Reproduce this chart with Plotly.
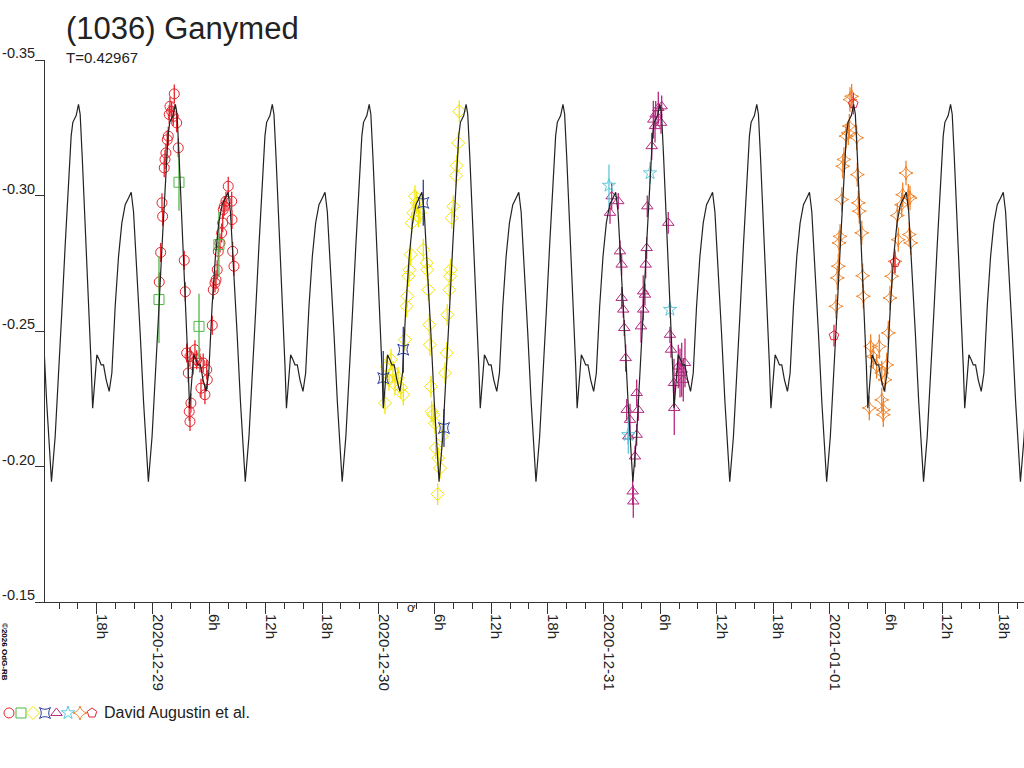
import numpy as np
import pandas as pd
import plotly.graph_objects as go

# ---- lightcurve of (1036) Ganymed, times in hours after 2020-12-29 00:00 UT ----
BASE = pd.Timestamp("2020-12-29 00:00")
PERIOD_D = 0.42967
EPOCH_MIN_H = -10.80          # a light minimum of the model curve

# model curve, one rotation (phase, relative mag)
MODEL_PHASE = [0.0000, 0.0379, 0.0723, 0.1067, 0.1411, 0.1756, 0.2031, 0.2203, 0.2547,
               0.2788, 0.2960, 0.3170, 0.3515, 0.3860, 0.4100, 0.4250, 0.4475, 0.4682,
               0.4923, 0.5129, 0.5370, 0.5645, 0.5955, 0.6231, 0.6575, 0.6919, 0.7263,
               0.7608, 0.7952, 0.8227, 0.8468, 0.8812, 0.9157, 0.9501, 0.9845]
MODEL_MAG = [-0.1944, -0.2110, -0.2320, -0.2570, -0.2815, -0.3050, -0.3220, -0.3270, -0.3295,
             -0.3336, -0.3300, -0.3145, -0.2870, -0.2560, -0.2370, -0.2215, -0.2308, -0.2412,
             -0.2394, -0.2375, -0.2375, -0.2320, -0.2277, -0.2345, -0.2591, -0.2775, -0.2899,
             -0.2966, -0.2991, -0.3012, -0.2940, -0.2730, -0.2490, -0.2240, -0.2050]

# session 1 (red circles)
RED_H = [2.27, 1.81, 1.99, 1.73, 2.16, 2.52, 1.63, 1.52, 1.38, 1.28, 1.20, 0.96, 1.03, 0.82,
         0.67, 2.69, 3.33, 3.44, 3.59, 3.94, 4.47, 4.65, 3.76, 4.29, 5.00, 5.35, 5.72, 5.78,
         5.11, 5.53, 4.04, 3.86, 3.94, 6.31, 6.42, 6.60, 6.71, 6.84, 6.95, 7.13, 7.31, 7.42,
         7.48, 7.59, 7.77, 8.01, 8.38, 8.41, 8.48, 8.62]
RED_M = [-0.3375, -0.3329, -0.3311, -0.3299, -0.3292, -0.3268, -0.3219, -0.3206, -0.3157,
         -0.3133, -0.3102, -0.2973, -0.2923, -0.2790, -0.2681, -0.3176, -0.2761, -0.2645,
         -0.2419, -0.2406, -0.2431, -0.2394, -0.2345, -0.2382, -0.2382, -0.2382, -0.2357,
         -0.2320, -0.2289, -0.2265, -0.2234, -0.2203, -0.2166, -0.2521, -0.2652, -0.2677,
         -0.2689, -0.2726, -0.2794, -0.2825, -0.2862, -0.2899, -0.2948, -0.2960, -0.2979,
         -0.3034, -0.2979, -0.2911, -0.2794, -0.2739]
RED_E = 0.0035

# session 2 (green squares)
GRN_H = [2.77, 0.64, 4.90, 7.02]
GRN_M = [-0.3049, -0.2616, -0.2517, -0.2819]
GRN_E = [0.0105, 0.016, 0.012, 0.012]

# session 3 (yellow diamonds)
YEL_H = [24.69, 24.90, 25.12, 25.33, 25.54, 25.76, 26.08, 26.39, 26.64, 26.82, 27.00, 27.07,
         27.17, 27.28, 27.43, 27.53, 27.70, 27.88, 28.07, 28.24, 28.42, 28.77, 29.13, 29.19,
         29.30, 29.41, 29.48, 29.59, 29.66, 29.83, 30.01, 30.09, 30.30, 30.36, 30.55, 30.73,
         31.08, 31.26, 31.32, 31.54, 31.61, 31.68, 31.79, 31.96, 32.25, 32.32, 32.49, 32.60]
YEL_M = [-0.2234, -0.2368, -0.2320, -0.2394, -0.2350, -0.2302, -0.2327, -0.2291, -0.2265,
         -0.2468, -0.2591, -0.2628, -0.2702, -0.2726, -0.2782, -0.2899, -0.2936, -0.2997,
         -0.2973, -0.2923, -0.2936, -0.2800, -0.2751, -0.2726, -0.2652, -0.2523, -0.2449,
         -0.2295, -0.2203, -0.2191, -0.2160, -0.2068, -0.1898, -0.2031, -0.1994, -0.2111,
         -0.2345, -0.2419, -0.2560, -0.2652, -0.2702, -0.2726, -0.2917, -0.2960, -0.3073,
         -0.3110, -0.3194, -0.3311]
YEL_E = 0.004

# session 4 (blue)
BLU_H = [24.51, 26.64, 28.77, 30.97]
BLU_M = [-0.2326, -0.2431, -0.2973, -0.2142]
BLU_E = [0.010, 0.0085, 0.0085, 0.007]

# session 5 (purple triangles)
PUR_H = [48.64, 48.82, 49.52, 49.70, 49.88, 49.88, 50.05, 50.16, 50.31, 50.42, 50.59, 50.77,
         51.05, 51.12, 51.30, 51.48, 51.65, 51.48, 51.94, 52.18, 52.18, 52.36, 52.44, 52.54,
         52.61, 53.08, 53.25, 53.43, 53.50, 53.78, 54.07, 54.14, 54.84, 55.02, 55.13, 55.45,
         55.48, 55.91, 56.09, 56.27, 56.44, 56.62]
PUR_M = [-0.2936, -0.2997, -0.2979, -0.2794, -0.2745, -0.2622, -0.2579, -0.2511, -0.2400,
         -0.2209, -0.2111, -0.2172, -0.1908, -0.1871, -0.2037, -0.2271, -0.2209, -0.2117,
         -0.2517, -0.2579, -0.2646, -0.2634, -0.2745, -0.2806, -0.2960, -0.3182, -0.3280,
         -0.3256, -0.3299, -0.3323, -0.3268, -0.3329, -0.2899, -0.2486, -0.2431, -0.2308,
         -0.2216, -0.2369, -0.2345, -0.2357, -0.2320, -0.2382]
PUR_E = [0.004, 0.005, 0.003, 0.004, 0.004, 0.004, 0.003, 0.003, 0.005, 0.004, 0.003, 0.006,
         0.005, 0.006, 0.004, 0.005, 0.004, 0.004, 0.006, 0.004, 0.006, 0.004, 0.005, 0.004,
         0.004, 0.005, 0.007, 0.006, 0.005, 0.006, 0.004, 0.004, 0.004, 0.003, 0.003, 0.009,
         0.010, 0.008, 0.009, 0.010, 0.008, 0.009]

# session 6 (cyan stars)
CYA_H = [48.53, 52.90, 55.02, 50.59]
CYA_M = [-0.3037, -0.3083, -0.2579, -0.2117]
CYA_E = [0.0077, 0.004, 0.003, 0.007]

# session 7 (orange 4-point stars)
ORA_H = [72.69, 72.83, 72.94, 73.01, 73.12, 73.30, 73.41, 73.54, 73.76, 74.00, 74.11, 74.18,
         74.36, 74.89, 74.96, 75.07, 75.17, 75.43, 75.53, 75.60, 76.24, 76.38, 76.66, 77.02,
         77.30, 77.56, 77.56, 77.73, 77.73, 77.91, 78.09, 78.26, 78.44, 78.62, 78.97, 79.22,
         79.32, 79.68, 79.79, 80.14, 80.39, 80.49, 80.57, 80.64]
ORA_M = [-0.2591, -0.2696, -0.2739, -0.2825, -0.2849, -0.2985, -0.3108, -0.3133, -0.3219,
         -0.3231, -0.3256, -0.3354, -0.3366, -0.3213, -0.3077, -0.2973, -0.2942, -0.2862,
         -0.2704, -0.2628, -0.2216, -0.2443, -0.2406, -0.2369, -0.2443, -0.2345, -0.2246,
         -0.2209, -0.2191, -0.2320, -0.2375, -0.2493, -0.2622, -0.2702, -0.2757, -0.2926,
         -0.2837, -0.2966, -0.3003, -0.3083, -0.2997, -0.2856, -0.2991, -0.2825]
ORA_E = 0.0045

# session 8 (red pentagons)
PEN_H = [72.48, 74.53, 78.97]
PEN_M = [-0.2483, -0.3339, -0.2753]
PEN_E = 0.004

Y_TICKS = [-0.35, -0.30, -0.25, -0.20, -0.15]
Y_TICK_TEXT = ["-0.35", "-0.30", "-0.25", "-0.20", "-0.15"]
X_TICK_H = [-6, 0, 6, 12, 18, 24, 30, 36, 42, 48, 54, 60, 66, 72, 78, 84, 90]
X_TICK_TEXT = ["18h", "2020-12-29", "6h", "12h", "18h", "2020-12-30", "6h", "12h", "18h",
               "2020-12-31", "6h", "12h", "18h", "2021-01-01", "6h", "12h", "18h"]
X_RANGE_H = [-11.49, 92.70]
OBSERVER = "David Augustin et al."


def to_time(hours):
    return BASE + pd.to_timedelta(np.asarray(hours, dtype=float), unit="h")


series = [
    (RED_H, RED_M, RED_E, "circle-open", "#e8232b"),
    (GRN_H, GRN_M, GRN_E, "square-open", "#4fb848"),
    (YEL_H, YEL_M, YEL_E, "diamond-open", "#f2e600"),
    (BLU_H, BLU_M, BLU_E, "star-square-open", "#2b3f9e"),
    (PUR_H, PUR_M, PUR_E, "triangle-up-open", "#b5287f"),
    (CYA_H, CYA_M, CYA_E, "star-open", "#5fc8dc"),
    (ORA_H, ORA_M, ORA_E, "star-diamond-open", "#f08228"),
    (PEN_H, PEN_M, PEN_E, "pentagon-open", "#e8233c"),
]

fig = go.Figure()

for h, m, e, sym, col in series:
    err = e if isinstance(e, list) else [e] * len(h)
    fig.add_trace(go.Scatter(
        x=to_time(h), y=m, mode="markers",
        marker=dict(symbol=sym, size=10, color=col, line=dict(width=1, color=col)),
        error_y=dict(type="data", array=err, width=0, thickness=1.3, color=col),
        hoverinfo="skip", showlegend=False,
    ))

# model curve repeated every rotation
period_h = PERIOD_D * 24
curve_h, curve_m = [], []
for k in range(-2, 11):
    for p, mg in zip(MODEL_PHASE, MODEL_MAG):
        t = EPOCH_MIN_H + (k + p) * period_h
        if X_RANGE_H[0] - 1 <= t <= X_RANGE_H[1] + 1:
            curve_h.append(t)
            curve_m.append(mg)
fig.add_trace(go.Scatter(
    x=to_time(curve_h), y=curve_m, mode="lines",
    line=dict(color="#222222", width=1.2),
    hoverinfo="skip", showlegend=False,
))

# symbol row at the bottom (pixel axes x2/y2)
leg_x = [9, 21, 33, 45, 56.5, 68, 80, 92]
fig.add_trace(go.Scatter(
    x=leg_x, y=[0.45] * len(leg_x), xaxis="x2", yaxis="y2", mode="markers",
    marker=dict(symbol=[s[3] for s in series], size=10,
                color=[s[4] for s in series], line=dict(width=1)),
    cliponaxis=False, hoverinfo="skip", showlegend=False,
))

W, H = 1024, 768
TOP, BOT = 60, 40
PLOT_H = H - TOP - BOT


def py(pix):
    return (H - BOT - pix) / PLOT_H


FONT = "Liberation Sans, Arial, sans-serif"
INK = "#222222"

fig.update_layout(
    width=W, height=H,
    margin=dict(l=0, r=0, t=TOP, b=BOT),
    paper_bgcolor="white", plot_bgcolor="white",
    font=dict(family=FONT, size=15, color=INK),
    showlegend=False,
    xaxis=dict(
        type="date", domain=[45 / W, 1], anchor="y",
        range=[to_time([X_RANGE_H[0]])[0], to_time([X_RANGE_H[1]])[0]],
        tickmode="array", tickvals=to_time(X_TICK_H), ticktext=X_TICK_TEXT,
        tickangle=90, ticks="outside", ticklen=11, tickcolor="#333",
        ticklabelshift=5, ticklabelstandoff=-3, tickfont=dict(size=15, color=INK),
        minor=dict(ticks="outside", ticklen=6, tickcolor="#333",
                   dtick=2 * 3600 * 1000, tick0="2020-12-29", showgrid=False),
        showline=True, linecolor="#333", linewidth=1,
        showgrid=False, zeroline=False, automargin=False,
    ),
    yaxis=dict(
        domain=[py(602), 1], anchor="x",
        range=[-0.15, -0.35],
        tickmode="array", tickvals=Y_TICKS, ticktext=Y_TICK_TEXT,
        ticks="outside", ticklen=9, tickcolor="#333",
        ticklabelshift=7, ticklabelstandoff=-3, tickfont=dict(size=14.5, color=INK),
        showline=True, linecolor="#333", linewidth=1,
        showgrid=False, zeroline=False, automargin=False,
    ),
    xaxis2=dict(domain=[0, 1], range=[0, W], anchor="y2", visible=False, fixedrange=True),
    yaxis2=dict(domain=[0, 0.05], range=[0, 1], anchor="x2", visible=False, fixedrange=True),
)

fig.add_annotation(text="(1036) Ganymed", xref="x2", yref="paper", x=64, y=py(28),
                   xanchor="left", yanchor="middle", showarrow=False,
                   font=dict(size=31, color=INK, family=FONT))
fig.add_annotation(text=f"T={PERIOD_D}", xref="x2", yref="paper", x=64, y=py(57),
                   xanchor="left", yanchor="middle", showarrow=False,
                   font=dict(size=15, color=INK, family=FONT))
fig.add_annotation(text=OBSERVER, xref="x2", yref="y2", x=102, y=0.45,
                   xanchor="left", yanchor="middle", showarrow=False,
                   font=dict(size=16, color=INK, family=FONT))
fig.add_annotation(text="<b>©2026 OdG-RB</b>", xref="x2", yref="paper", x=5, y=py(652),
                   xanchor="center", yanchor="middle", textangle=90, showarrow=False,
                   font=dict(size=8, color="#000", family=FONT))
fig.add_annotation(text="ơ", xref="x2", yref="paper", x=411, y=py(607),
                   xanchor="center", yanchor="middle", showarrow=False,
                   font=dict(size=13, color=INK, family=FONT))

# the page's default 8px body margin would push the figure off its 1024x768 frame
fig.write_html("out.html", config={"displayModeBar": False},
               post_script="document.body.style.margin='0px';")
